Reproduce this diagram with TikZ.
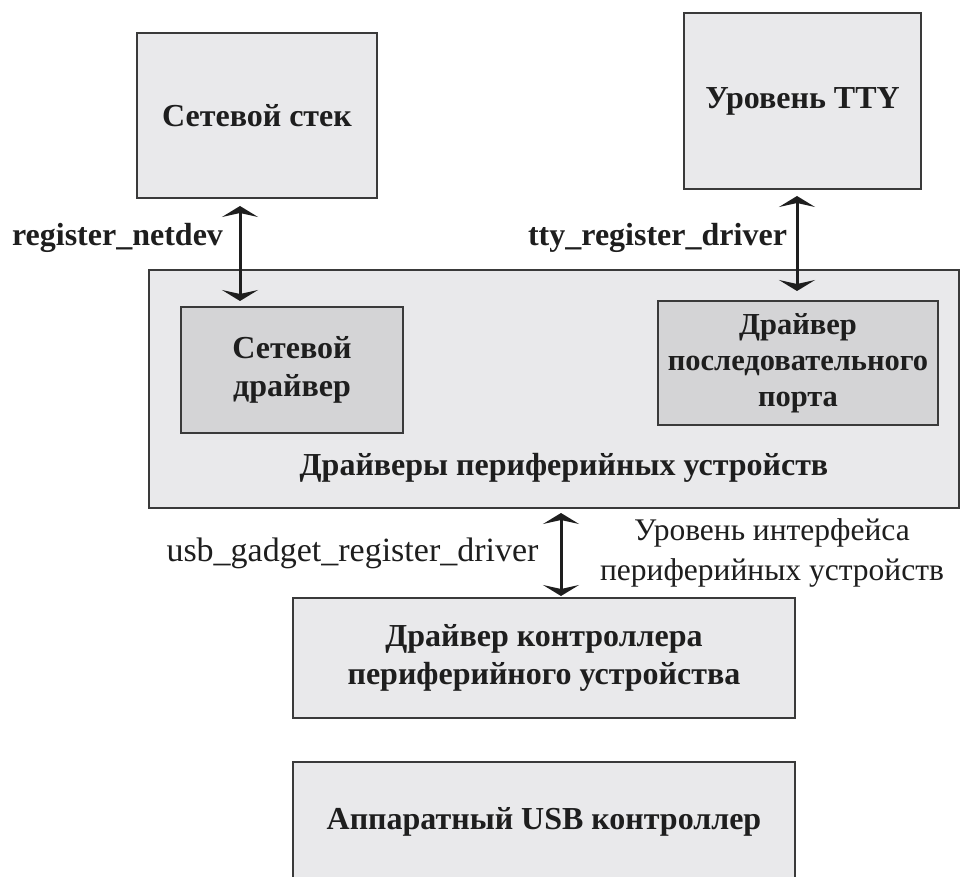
\documentclass[tikz,border=0pt]{standalone}
\usepackage{fontspec}
\setmainfont{Liberation Serif}
\usetikzlibrary{arrows.meta}

\definecolor{boxfill}{HTML}{E9E9EB}
\definecolor{innerfill}{HTML}{D4D4D6}
\definecolor{edgegray}{HTML}{3A3A3A}
\definecolor{ink}{HTML}{1E1E1E}

\newcommand\bxfont{\fontsize{32}{38}\selectfont\bfseries}
\newcommand\narrowbxfont{\fontsize{30.5}{36}\selectfont\bfseries}
\newcommand\lblfont{\fontsize{32}{38}\selectfont\bfseries}
\newcommand\plainfont{\fontsize{31.5}{40}\selectfont}
\newcommand\funcfont{\fontsize{34}{40}\selectfont}

\begin{document}
\begin{tikzpicture}[x=1pt,y=-1pt,
  box/.style={draw=edgegray, line width=2pt, fill=boxfill, inner sep=0pt,
              font=\bxfont, text=ink, align=center},
  inner/.style={box, fill=innerfill},
  lbl/.style={font=\lblfont, text=ink, inner sep=0pt},
  plainlbl/.style={font=\plainfont, text=ink, inner sep=0pt, align=center},
  conn/.style={draw=ink, line width=3pt,
               {Stealth[length=11pt,width=36pt,inset=4pt]}-{Stealth[length=11pt,width=36pt,inset=4pt]}}
]
% canvas
\fill[white] (0,0) rectangle (961,877);
\useasboundingbox (0,0) rectangle (961,877);
\clip (0,0) rectangle (961,877);

% upper layer
\node[box, minimum width=240pt, minimum height=165pt] (stack) at (257,115.5) {Сетевой стек};
\node[box, minimum width=237pt, minimum height=176pt] (tty) at (802.5,101) {Уровень TTY};

% peripheral drivers layer
\node[box, minimum width=810pt, minimum height=238pt] (periph) at (554,389) {};
\node[inner, minimum width=222pt, minimum height=126pt] (netdrv) at (292,370) {Сетевой\\драйвер};
\node[inner, font=\narrowbxfont, minimum width=280pt, minimum height=124pt] (portdrv) at (798,363) {Драйвер\\последовательного\\порта};
\node[lbl] (periphlbl) at (564,468) {Драйверы периферийных устройств};

% controller layers
\node[box, minimum width=502pt, minimum height=120pt] (ctrl) at (544,658) {Драйвер контроллера\\периферийного устройства};
\node[box, minimum width=502pt, minimum height=120pt] (usb) at (544,822) {Аппаратный USB контроллер};

% connector columns
\coordinate (netx) at (240,0);
\coordinate (ttyx) at (797,0);
\coordinate (usbx) at (561,0);

\draw[conn, shorten <=7pt, shorten >=5pt] (stack.south -| netx) -- (netdrv.north -| netx);
\draw[conn, shorten <=6pt, shorten >=9pt] (tty.south -| ttyx) -- (portdrv.north -| ttyx);
\draw[conn, shorten <=4pt, shorten >=1pt] (periph.south -| usbx) -- (ctrl.north -| usbx);

% connector labels
\node[lbl] (netlbl) at (117.5,238) {register\_netdev};
\node[lbl] (ttylbl) at (657.5,238) {tty\_register\_driver};
\node[plainlbl, font=\funcfont] (usblbl) at (352.5,553) {usb\_gadget\_register\_driver};
\node[plainlbl] (iflbl) at (772,553) {Уровень интерфейса\\периферийных устройств};
\end{tikzpicture}
\end{document}
